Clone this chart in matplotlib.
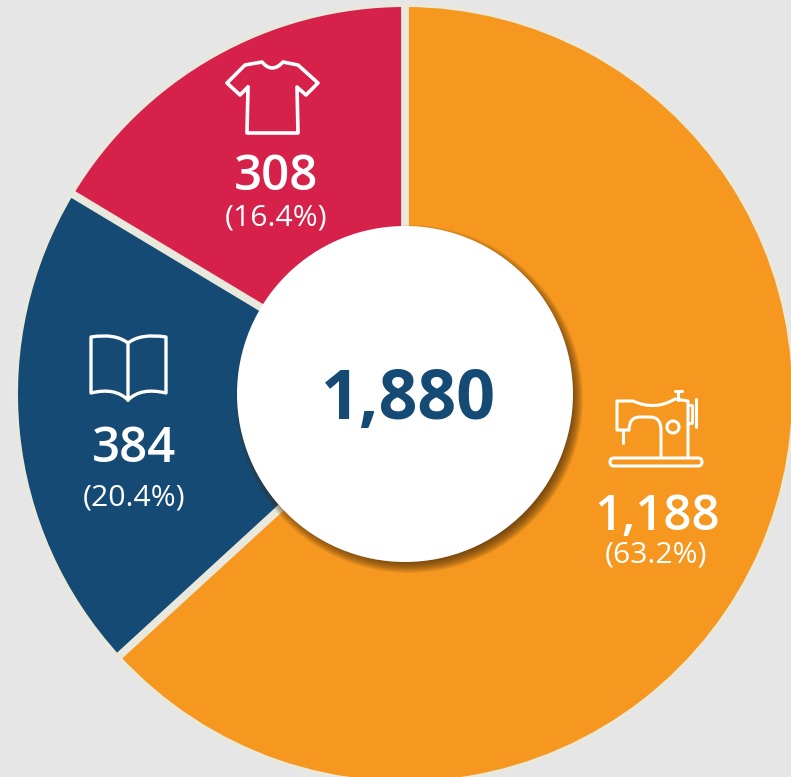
import numpy as np
import matplotlib
matplotlib.use("Agg")
import matplotlib.pyplot as plt
from matplotlib.patches import Circle, FancyBboxPatch, PathPatch
from matplotlib.path import Path

# Data
categories = ["Sewing", "Books", "Clothes"]
values = [1188, 384, 308]
shares = [63.2, 20.4, 16.4]
total = 1880
colors = ["#F6981F", "#154A75", "#D6214B"]

BG = "#E6E6E6"
GAP = "#E9E8DC"
W, H = 791, 777
cx, cy, R, r = 405, 383, 387, 168  # y measured from bottom

plt.rcParams["font.family"] = ["Open Sans", "DejaVu Sans"]

fig = plt.figure(figsize=(W / 100, H / 100), dpi=100, facecolor=BG)
ax = fig.add_axes([0, 0, 1, 1])

ax.add_patch(Circle((cx, cy), R + 3.5, fc=GAP, ec="none", zorder=0))
wedges, _ = ax.pie(values, colors=colors, startangle=90, counterclock=False,
                   center=(cx, cy), radius=R)
for w in wedges:
    w.set_zorder(1)
ax.set_xlim(0, W)
ax.set_ylim(0, H)
ax.set_aspect("equal")
ax.axis("off")

# separators between the slices
for w in wedges:
    a = np.radians(w.theta2)
    ax.plot([cx, cx + (R + 2) * np.cos(a)], [cy, cy + (R + 2) * np.sin(a)],
            color=GAP, lw=5.6, solid_capstyle="butt", zorder=2)

# soft shadow of the centre circle
for i in range(16):
    ax.add_patch(Circle((cx + 4, cy - 5), r + 6 - i * 0.8, fc="#4A2E0C",
                        ec="none", alpha=0.075, zorder=3))
ax.add_patch(Circle((cx, cy), r, fc="white", ec="none", zorder=4))


def px(x, y):
    return (x, H - y)


M, L, Q = Path.MOVETO, Path.LINETO, Path.CURVE3


def stroke(points, codes=None, lw=2.3):
    verts = [px(*p) for p in points]
    path = Path(verts, codes) if codes else Path(verts)
    ax.add_patch(PathPatch(path, fc="none", ec="white", lw=lw, joinstyle="round",
                           capstyle="round", zorder=5))


# t-shirt icon
stroke([(248, 87), (247, 133), (298, 133), (297, 87), (306, 95), (318, 83),
        (298, 65), (283, 62), (272, 74), (262, 62), (245, 65), (227, 83),
        (240, 95), (248, 87)],
       [M, L, L, L, L, L, L, L, Q, Q, L, L, L, L], lw=2.6)

# book icon
stroke([(128, 343), (115, 333), (91, 337), (91, 393), (115, 387), (128, 400),
        (141, 387), (166, 393), (166, 337), (141, 333), (128, 343), (128, 400)],
       [M, Q, Q, L, Q, Q, Q, Q, L, Q, Q, L], lw=2.4)

# sewing machine icon
ax.add_patch(FancyBboxPatch(px(610, 466), 92, 8, boxstyle="round,pad=0,rounding_size=4",
                            fc="none", ec="white", lw=2.2, zorder=5))
stroke([(629, 430), (617, 430), (617, 401), (633, 401), (655, 411), (675, 399),
        (688, 401), (688, 457)], [M, L, L, L, Q, Q, L, L], lw=2.2)
stroke([(629, 430), (629, 417), (640, 417), (650, 417), (661, 417), (661, 430),
        (661, 457)], [M, Q, Q, L, Q, Q, L], lw=2.2)
stroke([(623, 430), (623, 443)], lw=2.2)
stroke([(678, 392), (678, 400)], lw=2.2)
stroke([(675, 391), (682, 391)], lw=2.2)
stroke([(688, 405), (692, 405), (692, 423), (688, 423)], lw=2.0)
stroke([(696, 399), (696, 427)], lw=2.2)
ax.add_patch(Circle(px(673, 427), 6, fc="none", ec="white", lw=2.2, zorder=5))

# labels
label_pos = [(657, 517, 656, 555), (134, 449, 134, 498), (276, 178, 276, 218)]
for v, s, (x1, y1, x2, y2) in zip(values, shares, label_pos):
    ax.text(*px(x1, y1), f"{v:,}", color="white", fontsize=35.5, fontweight="semibold",
            ha="center", va="center", zorder=6)
    ax.text(*px(x2, y2), f"({s:.1f}%)", color="white", fontsize=21.7, fontweight="medium",
            ha="center", va="center", zorder=6)

ax.text(*px(408, 401), f"{total:,}", color="#154A75", fontsize=49, fontweight="bold",
        ha="center", va="center", zorder=6)

fig.savefig("out.png", dpi=100, facecolor=BG)
